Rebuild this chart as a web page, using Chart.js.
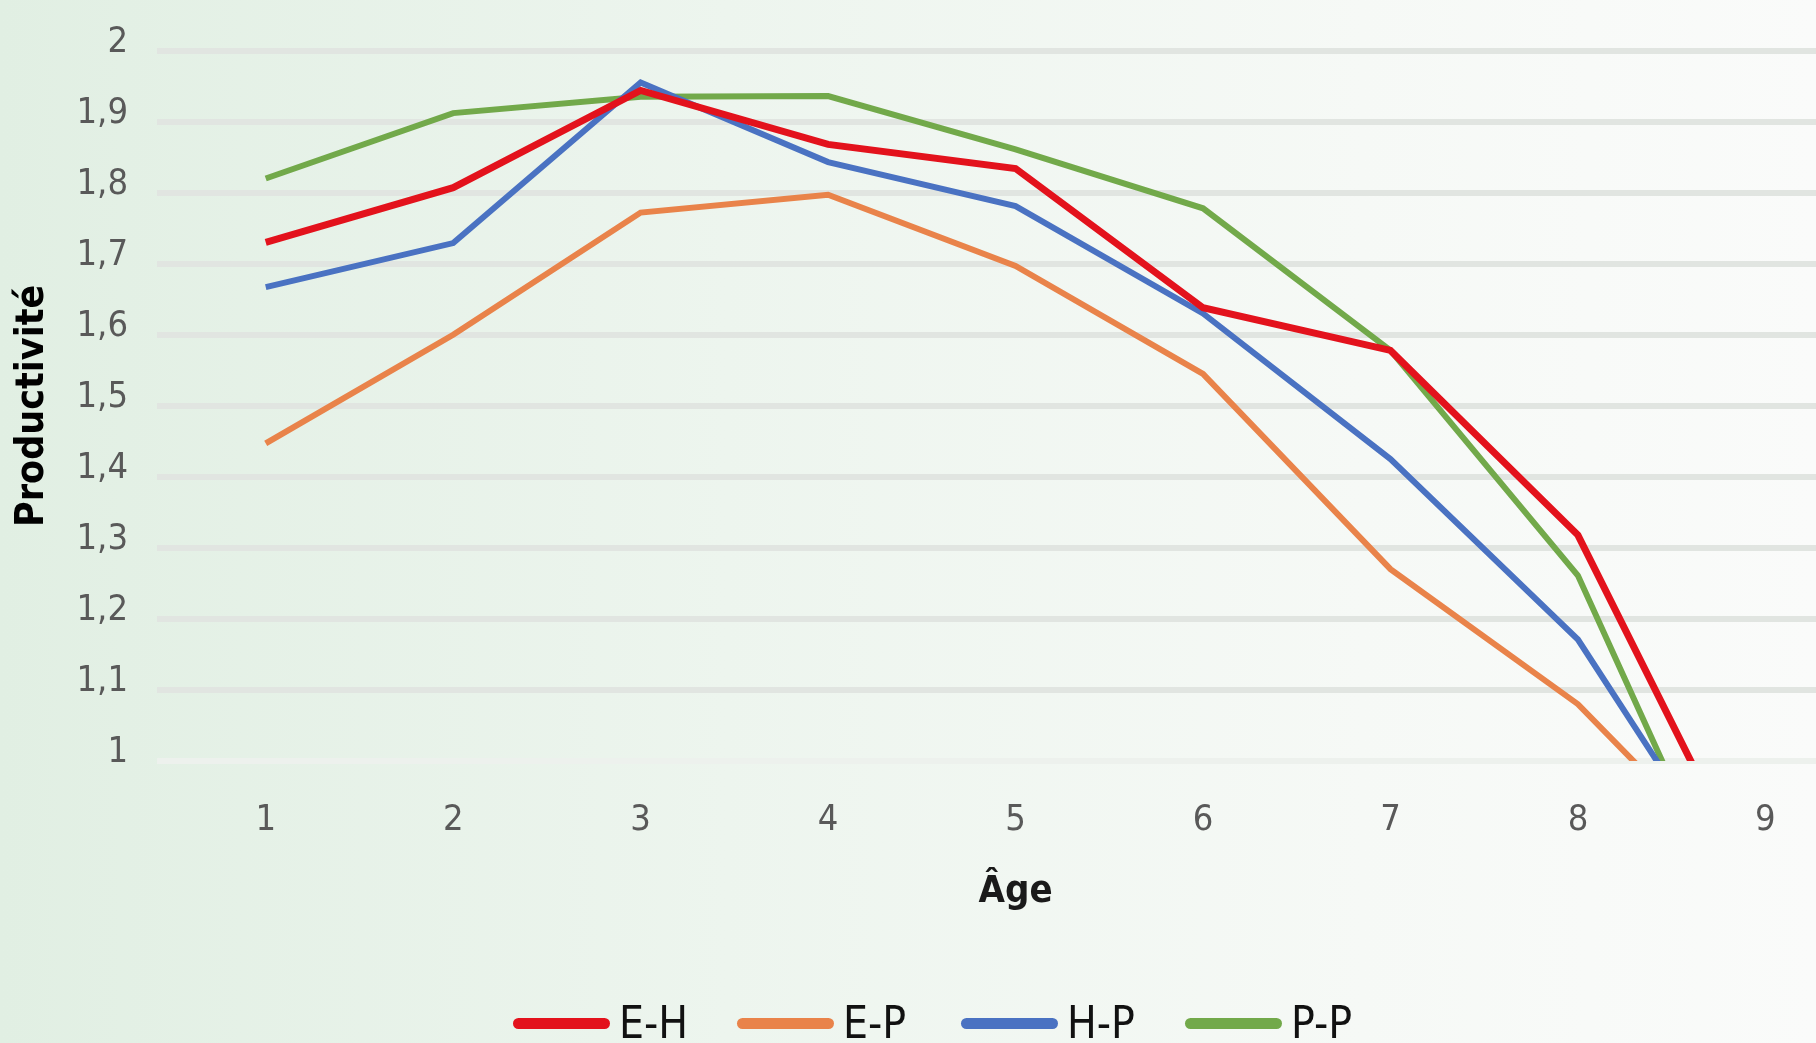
<!DOCTYPE html>
<html>
<head>
<meta charset="utf-8">
<script src="https://cdn.jsdelivr.net/npm/chart.js@4.4.1/dist/chart.umd.min.js"></script>
<style>
  html, body {
    margin: 0;
    padding: 0;
    overflow: hidden;
    background: linear-gradient(90deg, #e1efe3 0%, #edf5ee 40%, #f6f9f6 75%, #fafbfa 100%);
  }
  #wrap {
    position: relative;
    width: 1816px;
    height: 1043px;
  }
  #legend ul {
    position: absolute;
    left: 513px;
    top: 1001px;
    margin: 0;
    padding: 0;
    list-style: none;
    display: flex;
  }
  #legend li {
    width: 224px;
    height: 44px;
    display: flex;
    align-items: center;
    font: 44px 'Liberation Sans Narrow', 'DejaVu Sans Condensed', sans-serif;
    line-height: 44px;
    color: #111;
  }
  #legend li span {
    display: inline-block;
    width: 97px;
    height: 11px;
    border-radius: 6px;
    margin-right: 9px;
  }
</style>
</head>
<body>
<div id="wrap">
  <canvas id="chart"></canvas>
  <div id="legend"></div>
</div>
<script>
// ages on the x axis
const ages = [1, 2, 3, 4, 5, 6, 7, 8, 9]

// productivity per age (age 9 falls below the axis and is clipped)
const eH = [1.73, 1.807, 1.944, 1.868, 1.834, 1.638, 1.578, 1.318, 0.79]
const eP = [1.447, 1.6, 1.772, 1.797, 1.697, 1.545, 1.27, 1.08, 0.81]
const hP = [1.667, 1.729, 1.955, 1.843, 1.781, 1.63, 1.425, 1.171, 0.765]
const pP = [1.82, 1.912, 1.935, 1.936, 1.861, 1.778, 1.578, 1.261, 0.68]

const seriesNames = ['E-H', 'E-P', 'H-P', 'P-P']
const seriesValues = [eH, eP, hP, pP]

const FONT = "'Liberation Sans Narrow', 'DejaVu Sans Condensed', 'Arial Narrow', sans-serif"

const colours = [
  '#e3121c', // red
  '#e9834a', // orange
  '#4a72c2', // blue
  '#72a94a', // green
]
const widths = [7, 6, 6, 6]

const datasets = seriesValues.map((values, i) => ({
  label: seriesNames[i],
  data: values.map((v, j) => ({ x: ages[j], y: v })),
  borderColor: colours[i],
  backgroundColor: colours[i],
  borderWidth: widths[i],
  pointRadius: 0,
  tension: 0,
}))

// x title sits under the middle age tick, not the middle of the axis
const ageTitle = {
  id: 'ageTitle',
  afterDraw(chart) {
    const { ctx } = chart
    const x = chart.scales.x
    ctx.save()
    ctx.font = `bold 38px ${FONT}`
    ctx.fillStyle = '#1a1a1a'
    ctx.textAlign = 'center'
    ctx.textBaseline = 'middle'
    ctx.fillText('Âge', x.getPixelForValue(5), x.top + 131)
    ctx.restore()
  },
}

// legend as a list under the canvas, partly cut by the bottom edge
const htmlLegend = {
  id: 'htmlLegend',
  afterInit(chart) {
    const ul = document.createElement('ul')
    chart.data.datasets.forEach((d) => {
      ul.innerHTML += `<li><span style="background-color: ${d.borderColor}"></span>${d.label}</li>`
    })
    document.getElementById('legend').appendChild(ul)
  },
}

Chart.defaults.font.family = FONT

new Chart(document.getElementById('chart'), {
  type: 'line',
  data: { datasets },
  options: {
    responsive: true,
    maintainAspectRatio: false,
    animation: false,
    layout: {
      padding: { top: 49, left: 0, right: 0, bottom: 0 },
    },
    scales: {
      x: {
        type: 'linear',
        min: 0.42,
        max: 9.27,
        afterBuildTicks(scale) {
          scale.ticks = ages.map((v) => ({ value: v }))
        },
        afterFit(scale) {
          scale.height = 282
        },
        grid: { display: false, drawTicks: false },
        border: { display: false },
        ticks: {
          padding: 38,
          color: '#595959',
          font: { size: 36 },
          callback: (v) => String(v),
        },
      },
      y: {
        min: 1,
        max: 2,
        afterFit(scale) {
          scale.width = 157
        },
        grid: {
          color: (c) => (c.tick && c.tick.value === 1 ? '#edf1ed' : '#e1e5e1'),
          lineWidth: 6,
          drawTicks: false,
        },
        border: { display: false },
        ticks: {
          stepSize: 0.1,
          padding: 29,
          labelOffset: -8,
          color: '#595959',
          font: { size: 36 },
          callback: (v) => String(Math.round(v * 10) / 10).replace('.', ','),
        },
        title: {
          display: true,
          text: 'Productivité',
          color: '#000',
          font: { size: 39, weight: 'bold' },
          padding: { top: 9, bottom: 0 },
        },
      },
    },
    plugins: {
      legend: { display: false },
      tooltip: { enabled: false },
    },
  },
  plugins: [ageTitle, htmlLegend],
})
</script>
</body>
</html>
